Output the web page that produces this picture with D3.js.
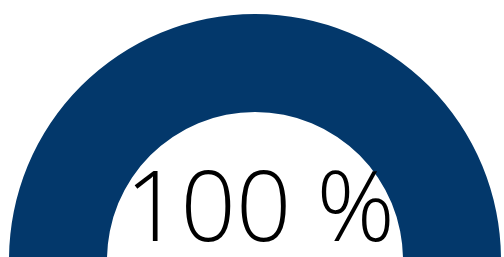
<!doctype html>
<meta charset="utf-8">
<style>
body { margin: 0; background: #fff; }
</style>
<body>
<div id="viz"></div>
<script src="https://cdn.jsdelivr.net/npm/d3@7"></script>
<script>
// gauge data
var labels = ["Progress"];
var values = [100];
var maxValues = [100];

var width = 504, height = 257;
var cx = 255, cy = 260, outerR = 246, innerR = 148;

var svg = d3.select("#viz").append("svg")
    .attr("width", width).attr("height", height)
    .append("g").attr("transform", "translate(" + cx + "," + cy + ")");

var angle = d3.scaleLinear().domain([0, maxValues[0]]).range([-Math.PI / 2, Math.PI / 2]);

var arc = d3.arc().innerRadius(innerR).outerRadius(outerR).startAngle(-Math.PI / 2);

svg.append("path")
    .datum({endAngle: angle(values[0])})
    .attr("d", arc)
    .attr("fill", "#03386B");

svg.append("text")
    .attr("x", 5).attr("y", -19)
    .attr("text-anchor", "middle")
    .style("font-family", "'Open Sans', sans-serif")
    .style("font-weight", 300)
    .style("font-size", "97px")
    .attr("fill", "#000")
    .text(values[0] + " %");
</script>
</body>
